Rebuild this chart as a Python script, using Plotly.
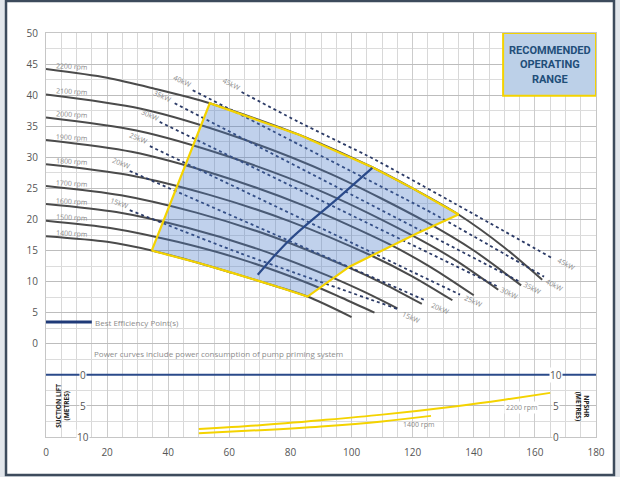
import plotly.graph_objects as go

# ---------------- data ----------------
rpm_names = ["1400 rpm", "1500 rpm", "1600 rpm", "1700 rpm", "1800 rpm",
             "1900 rpm", "2000 rpm", "2100 rpm", "2200 rpm"]

flow_1400 = [0, 20, 34.6, 50, 61, 75, 85.6, 100]
head_1400 = [17.3, 16.4, 15.0, 13.0, 11.4, 9.3, 7.6, 4.3]
flow_1500 = [0, 21.5, 43, 64.5, 86, 96.8, 107.5]
head_1500 = [19.8, 18.6, 16.4, 13.5, 9.7, 7.4, 5.0]
flow_1600 = [0, 23, 46, 69, 92, 103.5, 115]
head_1600 = [22.5, 21.2, 18.7, 15.3, 11.0, 8.5, 5.7]
flow_1700 = [0, 24.6, 49.2, 73.8, 98.4, 110.7, 123]
head_1700 = [25.4, 23.9, 21.1, 17.3, 12.4, 9.6, 6.4]
flow_1800 = [0, 26.6, 53.2, 79.8, 106.4, 119.7, 133]
head_1800 = [28.9, 27.2, 24.0, 19.7, 14.2, 10.9, 7.0]
flow_1900 = [0, 28, 56, 84, 112, 126, 140]
head_1900 = [32.8, 30.9, 27.2, 22.3, 16.1, 12.3, 7.8]
flow_2000 = [0, 29.6, 59.2, 88.8, 118.4, 133.2, 148]
head_2000 = [36.4, 34.3, 30.2, 24.8, 17.8, 13.7, 8.7]
flow_2100 = [0, 31.1, 62.2, 93.3, 124.4, 140, 155.5]
head_2100 = [40.1, 37.8, 33.3, 27.3, 19.6, 15.0, 9.4]
flow_2200 = [0, 20, 35, 53.6, 83, 106.8, 120, 135, 150, 162.4]
head_2200 = [44.2, 42.8, 41.1, 38.7, 33.6, 28.4, 25.0, 20.8, 15.5, 10.3]

kw_names = ["15kW", "20kW", "25kW", "30kW", "35kW", "40kW", "45kW"]
kw15_flow = [27.4, 63.4, 115];   kw15_head = [21.5, 14.6, 5.6]
kw20_flow = [27.4, 124.5];       kw20_head = [27.8, 6.9]
kw25_flow = [34.0, 135.5];       kw25_head = [31.8, 7.9]
kw30_flow = [37.2, 147.5];       kw30_head = [35.7, 9.3]
kw35_flow = [42.1, 155.0];       kw35_head = [38.7, 10.0]
kw40_flow = [48, 83, 126.5, 163];         kw40_head = [40.8, 32.0, 21.0, 10.8]
kw45_flow = [64, 83, 107, 134, 165.6];    kw45_head = [40.5, 35.6, 29.8, 22.5, 13.8]

region_flow = [34.6, 53.6, 83, 106.8, 120, 135, 121.5, 115.6, 99.3, 85.6, 75, 61, 50, 34.6]
region_head = [15.0, 38.7, 33.6, 28.4, 25.0, 20.8, 17.8, 16.4, 12.4, 7.6, 9.3, 11.4, 13.0, 15.0]

bep_flow = [69.3, 79.7, 95, 106.8]
bep_head = [11.1, 16.7, 23.2, 28.3]
bep_key_flow = [0, 15]
bep_key_head = [3.5, 3.5]

npsh_2200_flow = [50, 70, 90, 110, 135, 150, 165]
npsh_2200 = [1.3, 1.9, 2.7, 3.6, 5.0, 6.0, 7.1]
npsh_1400_flow = [50, 70, 90, 110, 126]
npsh_1400 = [0.6, 1.1, 1.7, 2.5, 3.4]

x_ticks = [0, 20, 40, 60, 80, 100, 120, 140, 160, 180]
y_ticks = [0, 5, 10, 15, 20, 25, 30, 35, 40, 45, 50]

# ---------------- styles ----------------
CURVE = "#4b4b4b"
DOT = "#2b3a66"
YELLOW = "#F4D300"
NAVY = "#2a4a8a"
LABEL = "#8a8a8a"
FONT = "Open Sans"

fig = go.Figure()

curves = [(flow_1400, head_1400), (flow_1500, head_1500), (flow_1600, head_1600),
          (flow_1700, head_1700), (flow_1800, head_1800), (flow_1900, head_1900),
          (flow_2000, head_2000), (flow_2100, head_2100), (flow_2200, head_2200)]
for (fx, hy) in curves:
    fig.add_trace(go.Scatter(x=fx, y=hy, mode="lines",
                             line=dict(color=CURVE, width=2, shape="spline", smoothing=0.8),
                             hoverinfo="skip", showlegend=False))

powers = [(kw15_flow, kw15_head), (kw20_flow, kw20_head), (kw25_flow, kw25_head),
          (kw30_flow, kw30_head), (kw35_flow, kw35_head), (kw40_flow, kw40_head),
          (kw45_flow, kw45_head)]
for (fx, hy) in powers:
    fig.add_trace(go.Scatter(x=fx, y=hy, mode="lines",
                             line=dict(color=DOT, width=1.8, dash="dot", shape="spline", smoothing=0.5),
                             hoverinfo="skip", showlegend=False))

# recommended operating range
fig.add_trace(go.Scatter(x=region_flow, y=region_head, mode="lines", fill="toself",
                         fillcolor="rgba(70,120,200,0.34)",
                         line=dict(color=YELLOW, width=2.2),
                         hoverinfo="skip", showlegend=False))

# best efficiency point line
fig.add_trace(go.Scatter(x=bep_flow, y=bep_head, mode="lines",
                         line=dict(color=NAVY, width=2.2, shape="spline"),
                         hoverinfo="skip", showlegend=False))
fig.add_trace(go.Scatter(x=bep_key_flow, y=bep_key_head, mode="lines",
                         line=dict(color="#1f3a78", width=3),
                         hoverinfo="skip", showlegend=False))

# NPSHR curves on secondary scale
fig.add_trace(go.Scatter(x=npsh_2200_flow, y=npsh_2200, yaxis="y2", mode="lines",
                         line=dict(color=YELLOW, width=2, shape="spline"),
                         hoverinfo="skip", showlegend=False))
fig.add_trace(go.Scatter(x=npsh_1400_flow, y=npsh_1400, yaxis="y2", mode="lines",
                         line=dict(color=YELLOW, width=2, shape="spline"),
                         hoverinfo="skip", showlegend=False))

ann = []
small = dict(family=FONT, size=7, color=LABEL)

# rpm labels
starts = [h[0] for (_, h) in curves]
for name, h0 in zip(rpm_names, starts):
    ann.append(dict(x=2.5, y=h0 + 0.45, text=name, showarrow=False, xanchor="left",
                    yanchor="middle", font=small, textangle=3))

# kW labels (left and right)
left_pos = [(24.2, 22.6, 20), (24.8, 29.0, 22), (30.4, 33.0, 23), (34.3, 36.8, 24),
            (38.2, 39.8, 25), (44.8, 42.2, 25), (60.8, 41.7, 27)]
right_pos = [(119.5, 4.3, 24), (129, 5.7, 24), (140, 6.8, 25), (151.8, 8.1, 26),
             (159.3, 8.9, 27), (166.5, 9.4, 28), (170.5, 12.8, 28)]
for name, (lx, ly, la), (rx, ry, ra) in zip(kw_names, left_pos, right_pos):
    ann.append(dict(x=lx, y=ly, text=name, showarrow=False, font=small, textangle=la))
    ann.append(dict(x=rx, y=ry, text=name, showarrow=False, font=small, textangle=ra))

ann.append(dict(x=15.5, y=3.5, text="Best Efficiency Point(s)", showarrow=False,
                xanchor="left", font=dict(family=FONT, size=8, color="#8c8c8c")))
ann.append(dict(x=15, y=-1.5, text="Power curves include power consumption of pump priming system",
                showarrow=False, xanchor="left", font=dict(family=FONT, size=8, color="#8c8c8c")))

# recommended box
ann.append(dict(x=164.8, y=44.9, text="RECOMMENDED<br>OPERATING<br>RANGE", showarrow=False,
                font=dict(family="Roboto", size=11, color="#1F4E79", weight="bold"),
                align="center", xanchor="center", yanchor="middle"))

# lower axes labels
axfont = dict(family=FONT, size=10, color="#555555")
for v, t in [(10, "0"), (5, "5"), (0, "10")]:
    ann.append(dict(x=12, y=v, yref="y2", text=t, showarrow=False, font=axfont,
                    bgcolor="white", borderpad=0))
for v, t in [(10, "10"), (5, "5"), (0, "0")]:
    ann.append(dict(x=167, y=v, yref="y2", text=t, showarrow=False, font=axfont,
                    bgcolor="white", borderpad=0))
ann.append(dict(x=5.5, y=5, yref="y2", text="<b>SUCTION LIFT<br>(METRES)</b>", showarrow=False,
                textangle=-90, font=dict(family=FONT, size=6.5, color="#222222")))
ann.append(dict(x=175.5, y=5, yref="y2", text="<b>NPSHR<br>(METRES)</b>", showarrow=False,
                textangle=90, font=dict(family=FONT, size=6.5, color="#222222")))
ann.append(dict(x=155.5, y=4.7, yref="y2", text="2200 rpm", showarrow=False, font=small,
                bgcolor="white"))
ann.append(dict(x=122, y=2.0, yref="y2", text="1400 rpm", showarrow=False, font=small))

shapes = [
    # outer frame
    dict(type="rect", xref="paper", yref="paper", x0=-0.0727, x1=1.0327, y0=-0.094, y1=1.079,
         fillcolor="white", line=dict(color="#3d4b5c", width=2.5), layer="below"),
    # recommended box
    dict(type="rect", xref="x", yref="y", x0=149.6, x1=180, y0=39.9, y1=50,
         fillcolor="#BCD0E8", line=dict(color=YELLOW, width=2), layer="above"),
    # suction / npsh zero line
    dict(type="line", xref="x", yref="y2", x0=0, x1=180, y0=10, y1=10,
         line=dict(color=NAVY, width=2), layer="above"),
]

fig.update_layout(
    width=620, height=477,
    margin=dict(l=46, r=24, t=33, b=40),
    paper_bgcolor="#e2e6eb", plot_bgcolor="white",
    showlegend=False,
    annotations=ann, shapes=shapes,
    xaxis=dict(range=[0, 180], tickvals=x_ticks, showgrid=True, gridcolor="#cccccc",
               gridwidth=1, zeroline=False, showline=True, linecolor="#c6c6c6", mirror=True,
               ticks="outside", ticklen=6, tickcolor="rgba(0,0,0,0)",
               tickfont=dict(family=FONT, size=10, color="#555555"),
               minor=dict(dtick=5, showgrid=True, gridcolor="#d8d8d8", gridwidth=1)),
    yaxis=dict(range=[-15, 50], tickvals=[-15, -10, -5] + y_ticks,
               ticktext=["", "", ""] + [str(v) for v in y_ticks],
               showgrid=True, gridcolor="#bdbdbd", gridwidth=1, zeroline=False,
               showline=True, linecolor="#c6c6c6", mirror=True,
               ticks="outside", ticklen=5, tickcolor="rgba(0,0,0,0)",
               tickfont=dict(family=FONT, size=10, color="#555555"),
               minor=dict(dtick=2.5, tick0=0, showgrid=True, gridcolor="#dcdcdc", gridwidth=1)),
    yaxis2=dict(range=[0, 65], overlaying="y", side="right", visible=False),
)

fig.write_html("out.html", config={"displayModeBar": False},
               post_script="document.body.style.margin='0px';")
